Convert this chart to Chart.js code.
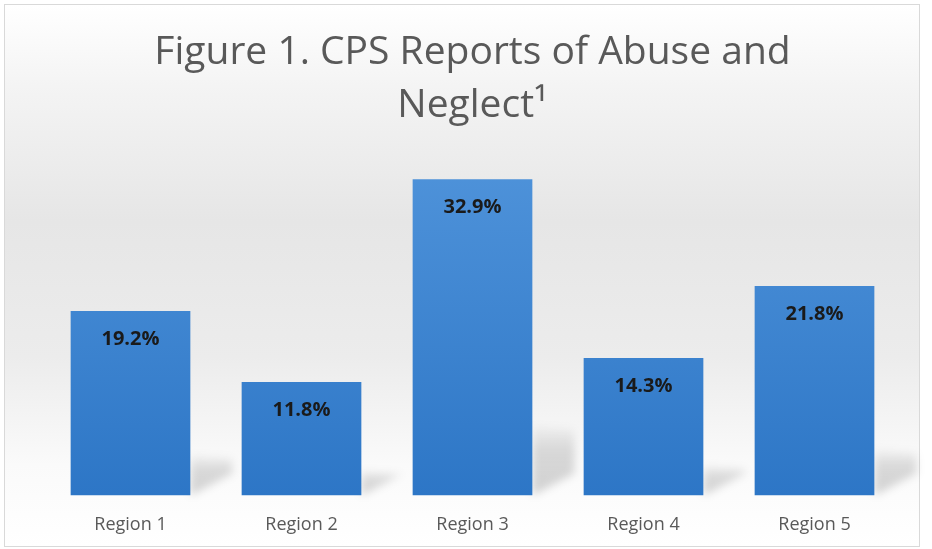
<!DOCTYPE html>
<html>
<head>
<meta charset="utf-8">
<script src="https://cdn.jsdelivr.net/npm/chart.js@4.4.1/dist/chart.umd.min.js"></script>
<style>
  html, body { margin: 0; padding: 0; background: #fff; }
  #wrap {
    position: absolute; left: 4px; top: 4px; width: 914px; height: 541px;
    border: 1px solid #d9d9d9;
    background: linear-gradient(to bottom, #ffffff 0%, #f4f4f4 15%, #e6e6e6 40%, #ececec 65%, #fafafa 85%, #ffffff 100%);
  }
  canvas { position: absolute; left: -5px; top: -5px; }
</style>
</head>
<body>
<div id="wrap"><canvas id="cps" width="932" height="549"></canvas></div>
<script>
const regions = ['Region 1', 'Region 2', 'Region 3', 'Region 4', 'Region 5'];
const reportPct = [19.2, 11.8, 32.9, 14.3, 21.8];
const titleLines = ['Figure 1. CPS Reports of Abuse and', 'Neglect\u00B9'];

document.addEventListener('DOMContentLoaded', function() {
    const ctx = document.getElementById('cps').getContext('2d');

    // bar value labels, drawn near the top of each bar
    const valueLabels = {
        id: 'valueLabels',
        afterDatasetsDraw(chart) {
            const c = chart.ctx;
            const meta = chart.getDatasetMeta(0);
            c.save();
            c.font = 'bold 20px "Open Sans", sans-serif';
            c.fillStyle = '#1a1a1a';
            c.textAlign = 'center';
            c.textBaseline = 'middle';
            meta.data.forEach(function(bar, i) {
                c.fillText(reportPct[i].toFixed(1) + '%', bar.x, bar.y + 28);
            });
            c.restore();
        }
    };

    // floor shadow to the right of each bar
    const barShadow = {
        id: 'barShadow',
        beforeDatasetsDraw(chart) {
            const c = chart.ctx;
            const meta = chart.getDatasetMeta(0);
            c.save();
            c.filter = 'blur(4px)';
            meta.data.forEach(function(bar) {
                const right = bar.x + bar.width / 2;
                const h = (bar.base - bar.y) * 0.22;
                const top = bar.base - h;
                const w = 42;
                const g = c.createLinearGradient(0, top, 0, bar.base);
                g.addColorStop(0, 'rgba(0,0,0,0.02)');
                g.addColorStop(0.35, 'rgba(0,0,0,0.13)');
                g.addColorStop(1, 'rgba(0,0,0,0.17)');
                c.fillStyle = g;
                c.beginPath();
                c.moveTo(right, top);
                c.lineTo(right + w, top + 4);
                c.lineTo(right + w, bar.base - 22);
                c.lineTo(right, bar.base);
                c.closePath();
                c.fill();
            });
            c.restore();
        }
    };

    new Chart(ctx, {
        type: 'bar',
        data: {
            labels: regions,
            datasets: [{
                data: reportPct,
                backgroundColor: function(context) {
                    const area = context.chart.chartArea;
                    if (!area) return '#3f86d2';
                    const g = context.chart.ctx.createLinearGradient(0, area.top, 0, area.bottom);
                    g.addColorStop(0, '#4f93da');
                    g.addColorStop(1, '#2d76c6');
                    return g;
                },
                borderWidth: 0,
                barPercentage: 0.7,
                categoryPercentage: 1
            }]
        },
        options: {
            responsive: false,
            animation: false,
            layout: { padding: { left: 45, right: 32, top: 0, bottom: 2 } },
            plugins: {
                legend: { display: false },
                tooltip: { enabled: false },
                title: {
                    display: true,
                    text: titleLines,
                    color: '#595959',
                    font: { family: '"Open Sans", sans-serif', size: 39, weight: 'normal', lineHeight: 1.36 },
                    padding: { top: 26, bottom: 27 }
                }
            },
            scales: {
                x: {
                    grid: { display: false },
                    border: { display: false },
                    ticks: { color: '#595959', font: { family: '"Open Sans", sans-serif', size: 18 }, padding: 11 }
                },
                y: {
                    display: false,
                    min: 0,
                    max: 35
                }
            }
        },
        plugins: [barShadow, valueLabels]
    });
});
</script>
</body>
</html>
